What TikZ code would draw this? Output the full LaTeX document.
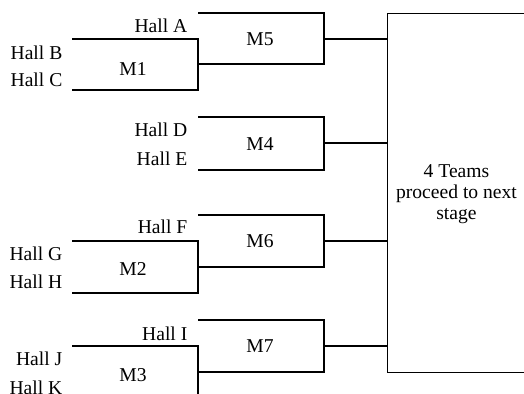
\documentclass[tikz,border=0pt]{standalone}
\usepackage{fontspec}
\setmainfont{Liberation Serif}
\newfontfamily\hallfont{Liberation Serif}
\begin{document}
\begin{tikzpicture}[x=0.5pt,y=-0.5pt,line width=0.65pt,
  font=\hallfont\fontsize{9.8}{10.5}\selectfont,
  hall/.style={anchor=base east,inner sep=0pt},
  match/.style={anchor=base,inner sep=0pt}]
  \useasboundingbox (0,0) rectangle (524,394);
  \clip (0,0) rectangle (524,394);

  % first round
  \draw (72,39) -- (198,39) -- (198,90) -- (72,90);
  \draw (72,241) -- (198,241) -- (198,293) -- (72,293);
  \draw (72,346) -- (198,346) -- (198,399) -- (72,399);

  % second round
  \draw (198,13) -- (324,13) -- (324,64) -- (198,64);
  \draw (198,117) -- (324,117) -- (324,170) -- (198,170);
  \draw (198,215) -- (324,215) -- (324,267) -- (198,267);
  \draw (198,320) -- (324,320) -- (324,372) -- (198,372);

  \coordinate (m5) at (324,39);
  \coordinate (m4) at (324,143);
  \coordinate (m6) at (324,241);
  \coordinate (m7) at (324,346);

  \node[draw,anchor=north west,inner sep=0pt,minimum width=70pt,minimum height=179.5pt] (final) at (387,13) {};
  \node[align=center,inner sep=0pt] (proceed) at (456.5,194) {4 Teams\\proceed to next\\stage};

  \draw (m5) -- (m5 -| final.west);
  \draw (m4) -- (m4 -| final.west);
  \draw (m6) -- (m6 -| final.west);
  \draw (m7) -- (m7 -| final.west);

  \node[hall] (ha) at (188,32.5) {Hall A};
  \node[hall] (hb) at (63,59.5) {Hall B};
  \node[hall] (hc) at (63,86.5) {Hall C};
  \node[hall] (hd) at (188,136.5) {Hall D};
  \node[hall] (he) at (188,165.5) {Hall E};
  \node[hall] (hf) at (188,233.5) {Hall F};
  \node[hall] (hg) at (63,260.5) {Hall G};
  \node[hall] (hh) at (63,288.5) {Hall H};
  \node[hall] (hi) at (188,340.5) {Hall I};
  \node[hall] (hj) at (63,365.5) {Hall J};
  \node[hall] (hk) at (63,394.5) {Hall K};

  \node[match] (lm1) at (133,75.5) {M1};
  \node[match] (lm2) at (133,275.5) {M2};
  \node[match] (lm3) at (133,381.5) {M3};
  \node[match] (lm5) at (260,45.5) {M5};
  \node[match] (lm4) at (260,150.5) {M4};
  \node[match] (lm6) at (260,247.5) {M6};
  \node[match] (lm7) at (260,352.5) {M7};
\end{tikzpicture}
\end{document}
